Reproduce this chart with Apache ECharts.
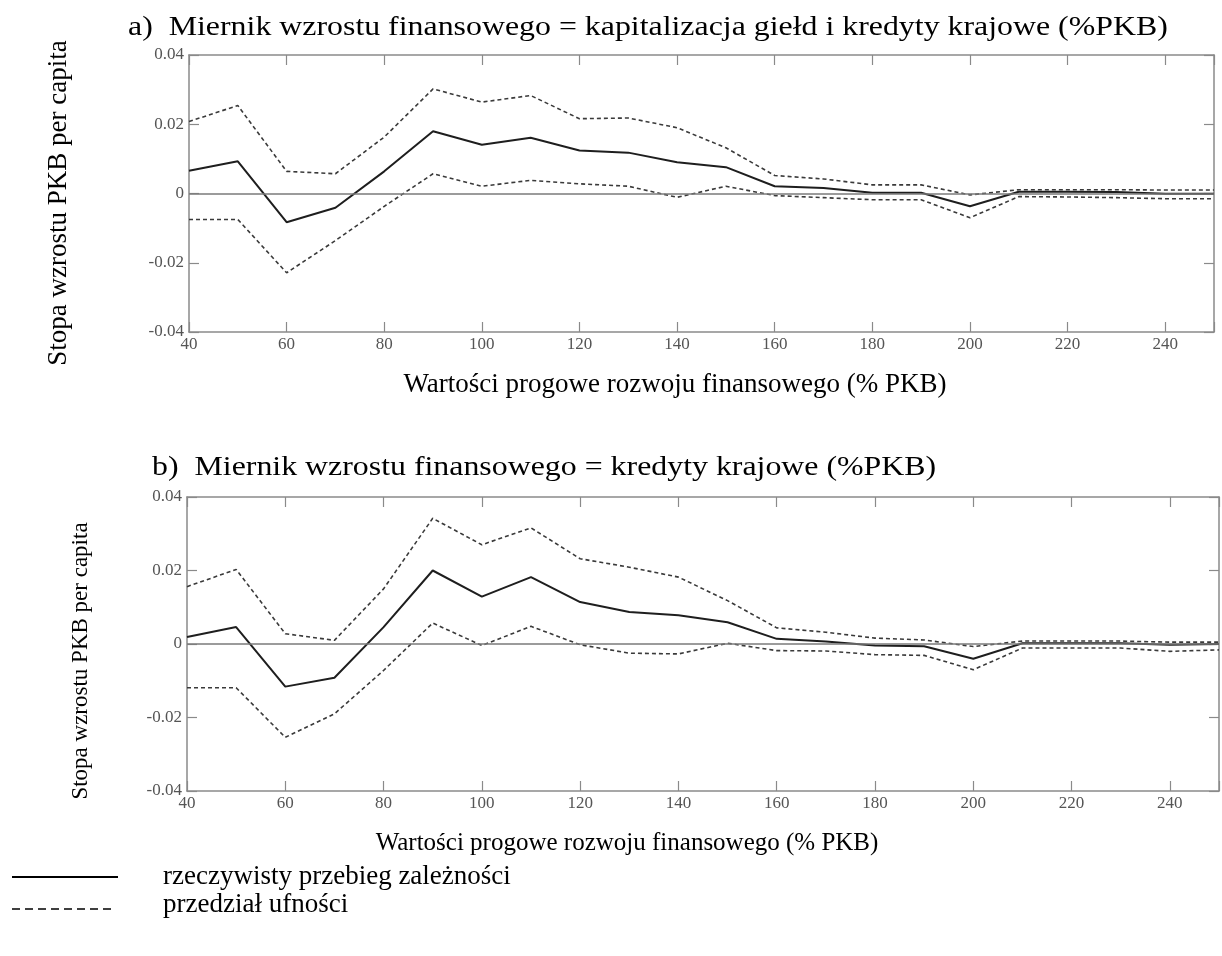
<!DOCTYPE html>
<html>
<head>
<meta charset="utf-8">
<script src="https://cdn.jsdelivr.net/npm/echarts@6/dist/echarts.min.js"></script>
<style>
html,body{margin:0;padding:0;background:#fff;}
#chart{width:1222px;height:956px;}
</style>
</head>
<body>
<div id="chart"></div>
<script>
// Threshold values of financial development (% of GDP)
const xValues = [40,50,60,70,80,90,100,110,120,130,140,150,160,170,180,190,200,210,220,230,240,250];
const xTickLabels = [40,60,80,100,120,140,160,180,200,220,240];
const yTickLabels = [-0.04,-0.02,0,0.02,0.04];

// Panel a) stock market capitalisation + domestic credit
const aMain  = [0.0066,0.0093,-0.0083,-0.0041,0.0064,0.0180,0.0141,0.0161,0.0124,0.0118,0.0090,0.0076,0.0021,0.0016,0.0002,0.0002,-0.0037,0.0005,0.0005,0.0004,-0.0001,-0.0001];
const aUpper = [0.0208,0.0254,0.0064,0.0057,0.0163,0.0302,0.0264,0.0283,0.0216,0.0218,0.0190,0.0132,0.0052,0.0042,0.0025,0.0025,-0.0004,0.0011,0.0011,0.0011,0.0010,0.0010];
const aLower = [-0.0075,-0.0075,-0.0229,-0.0136,-0.0037,0.0057,0.0021,0.0038,0.0028,0.0021,-0.0011,0.0021,-0.0006,-0.0012,-0.0018,-0.0018,-0.0070,-0.0009,-0.0010,-0.0012,-0.0015,-0.0015];

// Panel b) domestic credit
const bMain  = [0.0019,0.0046,-0.0116,-0.0092,0.0046,0.0200,0.0129,0.0182,0.0114,0.0087,0.0078,0.0059,0.0014,0.0007,-0.0004,-0.0006,-0.0040,0.0002,0.0002,0.0002,-0.0002,0.0000];
const bUpper = [0.0156,0.0203,0.0028,0.0010,0.0150,0.0342,0.0270,0.0316,0.0232,0.0209,0.0182,0.0118,0.0044,0.0032,0.0016,0.0011,-0.0007,0.0008,0.0008,0.0008,0.0005,0.0005];
const bLower = [-0.0119,-0.0119,-0.0254,-0.0190,-0.0072,0.0057,-0.0004,0.0048,-0.0002,-0.0025,-0.0027,0.0002,-0.0018,-0.0019,-0.0029,-0.0031,-0.0070,-0.0011,-0.0011,-0.0011,-0.0020,-0.0016];

const FONT = "'Liberation Serif','Times New Roman',serif";
const AXIS_COLOR = '#8a8a8a';

function zip(vals){ return xValues.map((x,i)=>[x, vals[i]]); }

function xAxes(gi){
  const base = {
    type:'value', gridIndex:gi, min:40, max:250, interval:20,
    axisLine:{show:true, onZero:false, lineStyle:{color:AXIS_COLOR, width:1.5}},
    axisTick:{show:true, inside:true, length:10, lineStyle:{color:AXIS_COLOR, width:1.2}},
    splitLine:{show:false}
  };
  return [
    Object.assign({}, base, {position:'bottom',
      axisLabel:{show:true, color:'#555', fontFamily:FONT, fontSize:17, margin:4,
        formatter:v => xTickLabels.indexOf(v) >= 0 ? String(v) : ''}}),
    Object.assign({}, base, {position:'top', axisLabel:{show:false}})
  ];
}
function yAxes(gi){
  const base = {
    type:'value', gridIndex:gi, min:-0.04, max:0.04, interval:0.02,
    axisLine:{show:true, onZero:false, lineStyle:{color:AXIS_COLOR, width:1.5}},
    axisTick:{show:true, inside:true, length:10, lineStyle:{color:AXIS_COLOR, width:1.2}},
    splitLine:{show:false}
  };
  return [
    Object.assign({}, base, {position:'left',
      axisLabel:{show:true, color:'#555', fontFamily:FONT, fontSize:17, margin:5,
        formatter:v => { const t = yTickLabels.find(k => Math.abs(k - v) < 1e-9); return t === 0 ? '0' : (t !== undefined ? t.toFixed(2) : ''); }}}),
    Object.assign({}, base, {position:'right', axisLabel:{show:false}})
  ];
}

function panelSeries(gi, main, upper, lower){
  const xi = gi*2, yi = gi*2;
  const dashed = {color:'#3a3a3a', width:1.6, type:[4,3]};
  return [
    {type:'line', xAxisIndex:xi, yAxisIndex:yi, data:zip(upper), showSymbol:false, symbol:'none',
     lineStyle:dashed, z:3, silent:true},
    {type:'line', xAxisIndex:xi, yAxisIndex:yi, data:zip(lower), showSymbol:false, symbol:'none',
     lineStyle:dashed, z:3, silent:true},
    {type:'line', xAxisIndex:xi, yAxisIndex:yi, data:zip(main), showSymbol:false, symbol:'none',
     lineStyle:{color:'#1e1e1e', width:2}, z:4, silent:true,
     markLine:{silent:true, symbol:'none', label:{show:false},
       lineStyle:{color:'#7a7a7a', width:1.5, type:'solid'}, data:[{yAxis:0}]}}
  ];
}

const chart = echarts.init(document.getElementById('chart'), null, {renderer:'canvas'});
const option = {
  animation:false,
  backgroundColor:'#fff',
  grid:[
    {left:189, top:55, width:1025, height:277},
    {left:187, top:497, width:1045, height:294}
  ],
  xAxis:[...xAxes(0), ...xAxes(1)],
  yAxis:[...yAxes(0), ...yAxes(1)],
  series:[
    ...panelSeries(0, aMain, aUpper, aLower),
    ...panelSeries(1, bMain, bUpper, bLower)
  ],
  graphic:[
    {type:'text', x:128, y:28, scaleX:1.18, style:{text:'a)  Miernik wzrostu finansowego = kapitalizacja giełd i kredyty krajowe (%PKB)', font:'27px '+FONT, fill:'#000', verticalAlign:'middle'}},
    {type:'text', x:152, y:468, scaleX:1.18, style:{text:'b)  Miernik wzrostu finansowego = kredyty krajowe (%PKB)', font:'27px '+FONT, fill:'#000', verticalAlign:'middle'}},
    {type:'text', x:675, y:385, style:{text:'Wartości progowe rozwoju finansowego (% PKB)', font:'27px '+FONT, fill:'#000', align:'center', verticalAlign:'middle'}},
    {type:'text', x:627, y:843, style:{text:'Wartości progowe rozwoju finansowego (% PKB)', font:'25px '+FONT, fill:'#000', align:'center', verticalAlign:'middle'}},
    {type:'text', x:59, y:203, rotation:Math.PI/2, style:{text:'Stopa wzrostu PKB per capita', font:'27px '+FONT, fill:'#000', align:'center', verticalAlign:'middle'}},
    {type:'text', x:81, y:661, rotation:Math.PI/2, style:{text:'Stopa wzrostu PKB per capita', font:'23px '+FONT, fill:'#000', align:'center', verticalAlign:'middle'}},
    {type:'line', shape:{x1:12, y1:877, x2:118, y2:877}, style:{stroke:'#000', lineWidth:2}},
    {type:'line', shape:{x1:12, y1:909, x2:116, y2:909}, style:{stroke:'#000', lineWidth:1.5, lineDash:[8,5]}},
    {type:'text', x:163, y:877, style:{text:'rzeczywisty przebieg zależności', font:'27px '+FONT, fill:'#000', verticalAlign:'middle'}},
    {type:'text', x:163, y:905, style:{text:'przedział ufności', font:'27px '+FONT, fill:'#000', verticalAlign:'middle'}}
  ]
};
chart.setOption(option);
</script>
</body>
</html>
